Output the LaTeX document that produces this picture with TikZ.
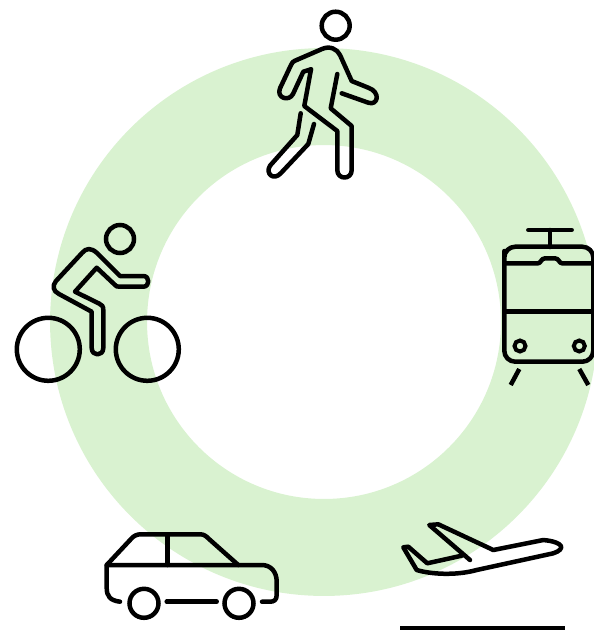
\documentclass[tikz,border=0pt]{standalone}
\usepackage{tikz}
\usetikzlibrary{arrows.meta, positioning}

\definecolor{ringgreen}{HTML}{D9F2D0}
\tikzset{
  iconline/.style={draw=black, line width=0.09cm, line join=round, line cap=round},
  headcirc/.style={circle, draw=black, line width=0.09cm, inner sep=0pt, minimum size=0.56cm},
  wheelbig/.style={circle, draw=black, line width=0.09cm, inner sep=0pt, minimum size=1.26cm},
  wheelcar/.style={circle, draw=black, line width=0.09cm, inner sep=0pt, minimum size=0.58cm},
  wheeltram/.style={circle, draw=black, line width=0.08cm, inner sep=0pt, minimum size=0.22cm}
}

\begin{document}
\begin{tikzpicture}[x=0.02cm, y=-0.02cm]
    \useasboundingbox (0,0) rectangle (594,630);
    \fill[ringgreen, even odd rule] (324,322) circle[radius=5.48cm] (324,322) circle[radius=3.54cm];

    % walker
    \node[headcirc] (walkhead) at (335.7,25.7) {};
    \draw[iconline] (311,69.3) -- (303.3,71.7) -- (293,94)
      .. controls (289,102) and (276,98) .. (280,88.3) -- (291,65) .. controls (292,62.5) and (293,61.5) .. (295,60.7) -- (322,49)
      .. controls (330,45.5) and (337,49) .. (340,55) -- (351.7,81) -- (368.3,87.7)
      .. controls (381,92) and (378,106) .. (368.3,102.7) -- (341.7,93.3);
    \draw[iconline] (311,69.3) -- (304.3,106) -- (337.3,131) -- (337.3,170)
      .. controls (337.3,180) and (351.7,180) .. (351.7,170) -- (351.7,126) -- (330.7,108.3) -- (337.3,74);
    \draw[iconline] (300.7,113.3) -- (297.3,135) -- (270,165.7)
      .. controls (265,174) and (274,181) .. (281,173) -- (308.3,144) -- (314,124);

    % cyclist
    \node[headcirc] (cyclehead) at (120,239) {};
    \node[wheelbig] (cycleleft) at (48.3,349.3) {};
    \node[wheelbig] (cycleright) at (147.3,349.3) {};
    \draw[iconline] (96.7,267.7) -- (114,284) .. controls (116,286.7) and (117,286.7) .. (120,286.7) -- (143.3,286.7)
      .. controls (150,286.7) and (150,276) .. (143.3,276) -- (120,276) -- (97,253)
      .. controls (91,247.5) and (86,248) .. (82,253) -- (56,281)
      .. controls (52,286) and (53,291) .. (59,294) -- (91.7,311.7) -- (91.7,348)
      .. controls (91.7,356.5) and (103.3,356.5) .. (103.3,348) -- (103.3,310)
      .. controls (103.3,306) and (102,305) .. (99,303.5) -- (75,291.7) -- cycle;

    % tram
    \draw[iconline] (528.3,230) -- (571.7,230);
    \draw[iconline] (550,230) -- (550,247);
    \draw[iconline, rounded corners=0.22cm] (504.3,262) -- (504.3,246.7) -- (593.3,246.7) -- (593.3,361.7) -- (504.3,361.7) -- cycle;
    \draw[iconline] (504.3,263.3) -- (538,263.3) .. controls (541,263.3) and (541,258.3) .. (545,258.3) -- (555,258.3)
      .. controls (559,258.3) and (559,263.3) .. (562,263.3) -- (593.3,263.3);
    \draw[iconline] (504.3,311.7) -- (593.3,311.7);
    \node[wheeltram] (tramleft) at (520,346) {};
    \node[wheeltram] (tramright) at (579.3,346) {};
    \draw[iconline, line cap=butt] (519.3,369) -- (510.7,385);
    \draw[iconline, line cap=butt] (579.3,369) -- (588.3,385);

    % car
    \node[wheelcar] (carleft) at (144,603.3) {};
    \node[wheelcar] (carright) at (239,603.3) {};
    \draw[iconline] (106.7,565) -- (131,539) .. controls (134,535.5) and (137,534.3) .. (141,534.3) -- (200,534.3)
      .. controls (204,534.3) and (206,536) .. (209,539) -- (238.3,565);
    \draw[iconline] (167.7,534.3) -- (167.7,565);
    \draw[iconline] (120,601.7) .. controls (110,600.5) and (106.7,596) .. (106.7,588) -- (106.7,565) -- (261.7,565)
      .. controls (271,565) and (276.7,572) .. (276.7,581.7) -- (276.7,595)
      .. controls (276.7,600) and (274,601.7) .. (270,601.7) -- (262,601.7);
    \draw[iconline] (166.7,601.7) -- (216.7,601.7);

    % plane
    \draw[iconline] (461.7,555.7) -- (427.3,563.3) -- (408.3,546.7) -- (403.3,547.3) -- (416.7,570)
      .. controls (430,574) and (455,576) .. (476.7,570) -- (553.3,553.3)
      .. controls (566,549) and (564,542) .. (543.3,540) -- (493.3,550) -- (438.3,524.3) -- (429.3,525) -- (470,560);
    \draw[line width=0.08cm] (400,627.7) -- (565,627.7);
\end{tikzpicture}
\end{document}
